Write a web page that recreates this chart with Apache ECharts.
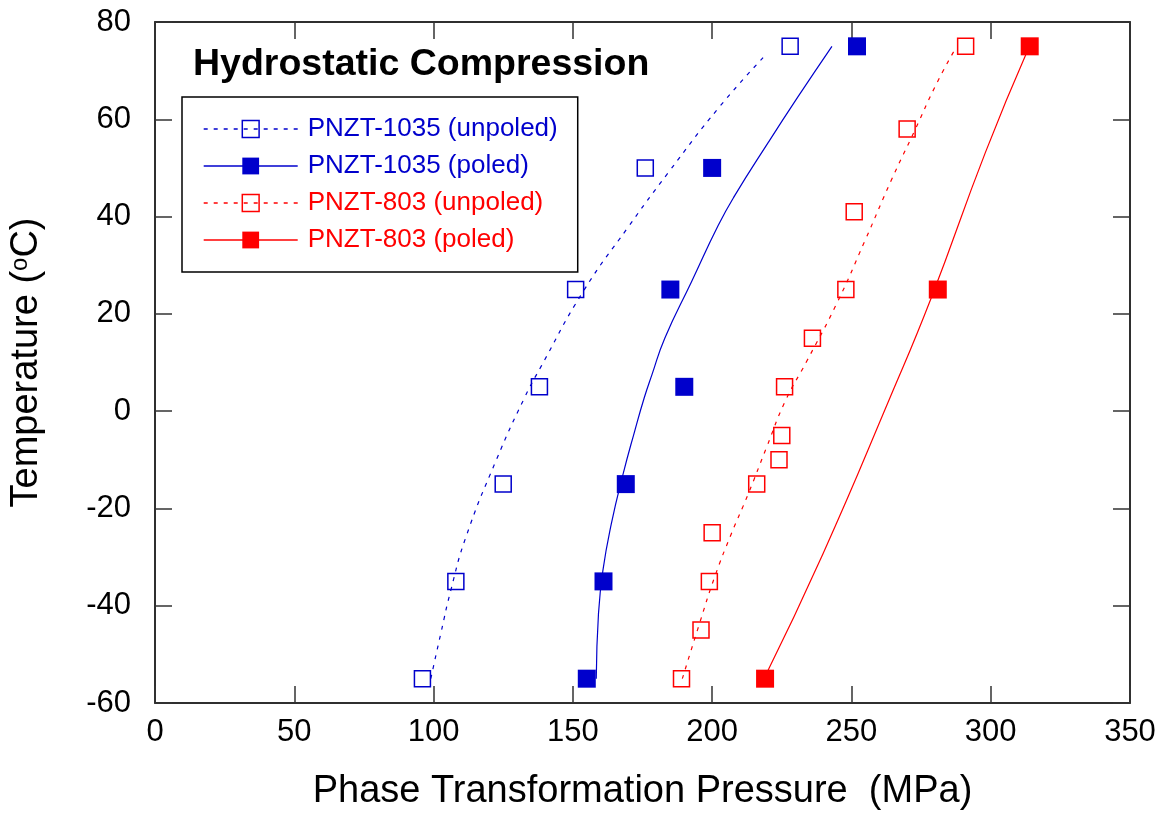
<!DOCTYPE html>
<html>
<head>
<meta charset="utf-8">
<script src="https://cdn.jsdelivr.net/npm/echarts@6/dist/echarts.min.js"></script>
<style>
html,body{margin:0;padding:0;background:#fff;}
#chart{width:1167px;height:816px;}
</style>
</head>
<body>
<div id="chart"></div>
<script>
// ---- data ----
const seriesNames = ['PNZT-1035 (unpoled)', 'PNZT-1035 (poled)', 'PNZT-803 (unpoled)', 'PNZT-803 (poled)'];

// measured points (pressure MPa, temperature C)
const b1035UnpoledX = [96, 108, 125, 138, 151, 176, 228];
const b1035UnpoledY = [-55, -35, -15, 5, 25, 50, 75];
const b1035PoledX = [155, 161, 169, 190, 185, 200, 252];
const b1035PoledY = [-55, -35, -15, 5, 25, 50, 75];
const r803UnpoledX = [189, 196, 199, 200, 216, 224, 225, 226, 236, 248, 251, 270, 291];
const r803UnpoledY = [-55, -45, -35, -25, -15, -10, -5, 5, 15, 25, 41, 58, 75];
const r803PoledX = [219, 281, 314];
const r803PoledY = [-55, 25, 75];

// fitted curves as drawn in the reference
const fit1035UnpoledX = [99, 102.6, 106.2, 111.6, 122.4, 132.6, 138.6, 153.6, 169.8, 184.2, 202.7, 219.8];
const fit1035UnpoledY = [-55, -45.7, -36.8, -25.9, -10.2, 2.7, 9.2, 24.5, 37.8, 49.0, 62.6, 73.6];
const fit1035PoledX = [158.4, 159.2, 160.8, 163.8, 168, 172.2, 175.6, 178.4, 183, 192.6, 202.2, 208.1, 220.1, 230.9, 243];
const fit1035PoledY = [-55, -41.6, -32.7, -23.2, -13, -4.1, 2.7, 7.5, 15, 26.6, 38.2, 44.3, 55.2, 64.7, 75];
const fit803UnpoledX = [189.3, 195.5, 200.9, 206.9, 212.9, 219.5, 226.2, 233.9, 244.7, 254.9, 264.5, 272.9, 280.1, 286.7];
const fit803UnpoledY = [-55, -43.6, -34.1, -25.2, -17.1, -7.5, 2.0, 10.2, 22.1, 35.1, 47.7, 57.9, 66.8, 73.9];
const fit803PoledX = [218.6, 239.8, 263.8, 278.6, 298.1, 313.5];
const fit803PoledY = [-55, -29.3, 2.7, 23.2, 53.2, 74.5];

const xTicks = [0, 50, 100, 150, 200, 250, 300, 350];
const yTicks = [-60, -40, -20, 0, 20, 40, 60, 80];

// ---- build ----
const BLUE = '#0000CC';
const RED = '#FF0000';
const FONT = "'Liberation Sans', Arial, sans-serif";
const DASH = [4, 6];
const pair = (xs, ys) => xs.map((x, i) => [x, ys[i]]);

const colors = [BLUE, BLUE, RED, RED];
const open = [true, false, true, false];
const pts = [pair(b1035UnpoledX, b1035UnpoledY), pair(b1035PoledX, b1035PoledY), pair(r803UnpoledX, r803UnpoledY), pair(r803PoledX, r803PoledY)];
const fits = [pair(fit1035UnpoledX, fit1035UnpoledY), pair(fit1035PoledX, fit1035PoledY), pair(fit803UnpoledX, fit803UnpoledY), pair(fit803PoledX, fit803PoledY)];

const series = [];
seriesNames.forEach((name, i) => {
  series.push({
    name: name,
    type: 'line',
    data: fits[i],
    smooth: 0.5,
    symbol: 'rect',
    showSymbol: false,
    silent: true,
    z: 2,
    lineStyle: { color: colors[i], width: 1.2, type: open[i] ? DASH : 'solid' },
    itemStyle: { color: colors[i] }
  });
});
seriesNames.forEach((name, i) => {
  series.push({
    name: name + ' pts',
    type: 'scatter',
    data: pts[i],
    symbol: 'rect',
    symbolSize: open[i] ? 16 : 18,
    z: 3,
    itemStyle: open[i]
      ? { color: 'rgba(255,255,255,0)', borderColor: colors[i], borderWidth: 1.5, opacity: 1 }
      : { color: colors[i], opacity: 1 }
  });
});

const legendData = seriesNames.map((name, i) => ({
  name: name,
  itemStyle: open[i]
    ? { color: 'rgba(255,255,255,0)', borderColor: colors[i], borderWidth: 1.5, opacity: 1 }
    : { color: colors[i], borderWidth: 0, opacity: 1 },
  lineStyle: { color: colors[i], width: 1.4, type: open[i] ? DASH : 'solid', opacity: 1 },
  textStyle: { color: colors[i] }
}));

const axisCommon = {
  type: 'value',
  splitLine: { show: false },
  axisTick: { show: true, inside: true, length: 17, lineStyle: { color: '#333', width: 1.5 } },
  axisLine: { show: true, onZero: false, lineStyle: { color: '#222', width: 1.5 } }
};

const option = {
  backgroundColor: '#fff',
  animation: false,
  title: {
    text: 'Hydrostatic Compression',
    left: 193, top: 46, padding: 0,
    textStyle: { fontFamily: FONT, fontSize: 37.5, fontWeight: 'bold', color: '#000' }
  },
  legend: {
    orient: 'vertical',
    left: 182, top: 97,
    padding: [19, 20, 19, 21],
    itemWidth: 94, itemHeight: 21, itemGap: 11,
    borderColor: '#000', borderWidth: 1.5,
    backgroundColor: 'rgba(255,255,255,0)',
    selectedMode: false,
    textStyle: { fontFamily: FONT, fontSize: 26, padding: [0, 0, 0, 5] },
    data: legendData
  },
  grid: { left: 155, right: 37, top: 22, bottom: 109, show: true, borderColor: '#222', borderWidth: 1.5, backgroundColor: 'rgba(0,0,0,0)' },
  xAxis: [
    Object.assign({}, axisCommon, {
      position: 'bottom',
      min: xTicks[0], max: xTicks[xTicks.length - 1], interval: xTicks[1] - xTicks[0],
      name: 'Phase Transformation Pressure  (MPa)',
      nameLocation: 'middle', nameGap: 70,
      nameTextStyle: { fontFamily: FONT, fontSize: 38, color: '#000' },
      axisLabel: { fontFamily: FONT, fontSize: 31, color: '#000', margin: 14 }
    }),
    Object.assign({}, axisCommon, {
      position: 'top',
      min: xTicks[0], max: xTicks[xTicks.length - 1], interval: xTicks[1] - xTicks[0],
      axisLabel: { show: false }
    })
  ],
  yAxis: [
    Object.assign({}, axisCommon, {
      position: 'left',
      min: yTicks[0], max: yTicks[yTicks.length - 1], interval: yTicks[1] - yTicks[0],
      name: 'Temperature ({sup|o}C)',
      nameLocation: 'middle', nameGap: 109,
      nameTextStyle: {
        fontFamily: FONT, fontSize: 38, color: '#000',
        rich: { sup: { fontFamily: FONT, fontSize: 24, color: '#000', verticalAlign: 'top' } }
      },
      axisLabel: { fontFamily: FONT, fontSize: 31, color: '#000', margin: 24 }
    }),
    Object.assign({}, axisCommon, {
      position: 'right',
      min: yTicks[0], max: yTicks[yTicks.length - 1], interval: yTicks[1] - yTicks[0],
      axisLabel: { show: false }
    })
  ],
  series: series
};

const chart = echarts.init(document.getElementById('chart'), null, { renderer: 'canvas' });
chart.setOption(option);
</script>
</body>
</html>
